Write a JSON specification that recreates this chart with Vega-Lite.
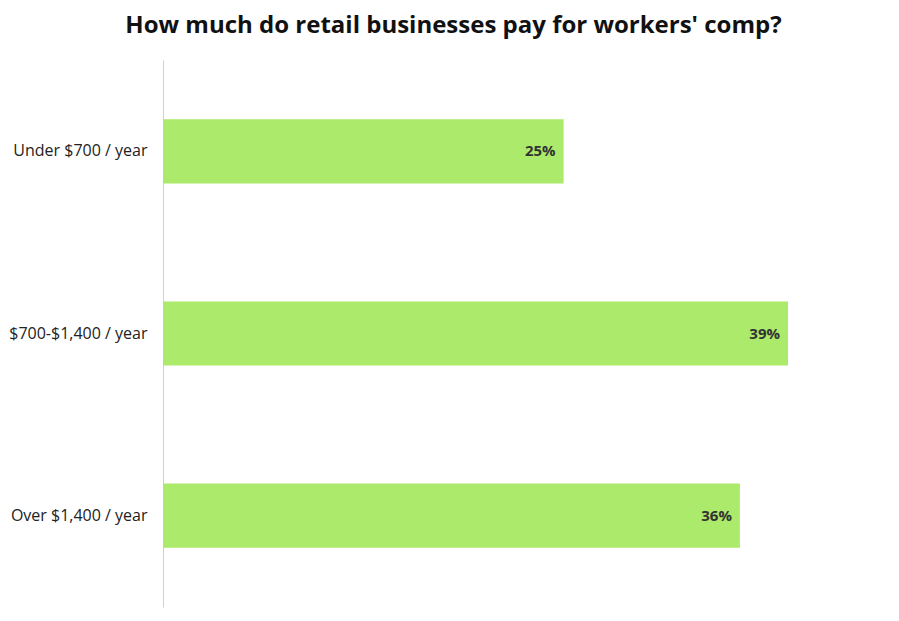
{
  "$schema": "https://vega.github.io/schema/vega-lite/v6.json",
  "width": 641,
  "height": 547,
  "autosize": {"type": "none"},
  "padding": {"left": 163, "top": 60, "right": 95, "bottom": 14},
  "background": "white",
  "title": {
    "text": "How much do retail businesses pay for workers' comp?",
    "font": "Open Sans",
    "fontSize": 24,
    "fontWeight": "bold",
    "color": "#111111",
    "anchor": "middle",
    "dx": -30,
    "offset": 22
  },
  "config": {
    "view": {"stroke": null},
    "font": "Open Sans"
  },
  "data": {
    "values": [
      {"bracket": "Under $700 / year", "share": 0.25},
      {"bracket": "$700-$1,400 / year", "share": 0.39},
      {"bracket": "Over $1,400 / year", "share": 0.36}
    ]
  },
  "encoding": {
    "y": {
      "field": "bracket",
      "type": "nominal",
      "sort": null,
      "title": null,
      "scale": {"paddingInner": 0.648, "paddingOuter": 0.326},
      "axis": {
        "ticks": false,
        "labelFontSize": 16,
        "labelColor": "#222222",
        "labelPadding": 16,
        "domainColor": "#d0d0d0",
        "domainWidth": 1
      }
    },
    "x": {
      "field": "share",
      "type": "quantitative",
      "scale": {"domain": [0, 0.4]},
      "axis": null
    }
  },
  "layer": [
    {
      "mark": {"type": "bar", "color": "#abea6a"}
    },
    {
      "mark": {
        "type": "text",
        "align": "right",
        "baseline": "middle",
        "dx": -8,
        "fontSize": 15,
        "fontWeight": "bold",
        "color": "#333333"
      },
      "encoding": {
        "text": {"field": "share", "type": "quantitative", "format": ".0%"}
      }
    }
  ]
}
